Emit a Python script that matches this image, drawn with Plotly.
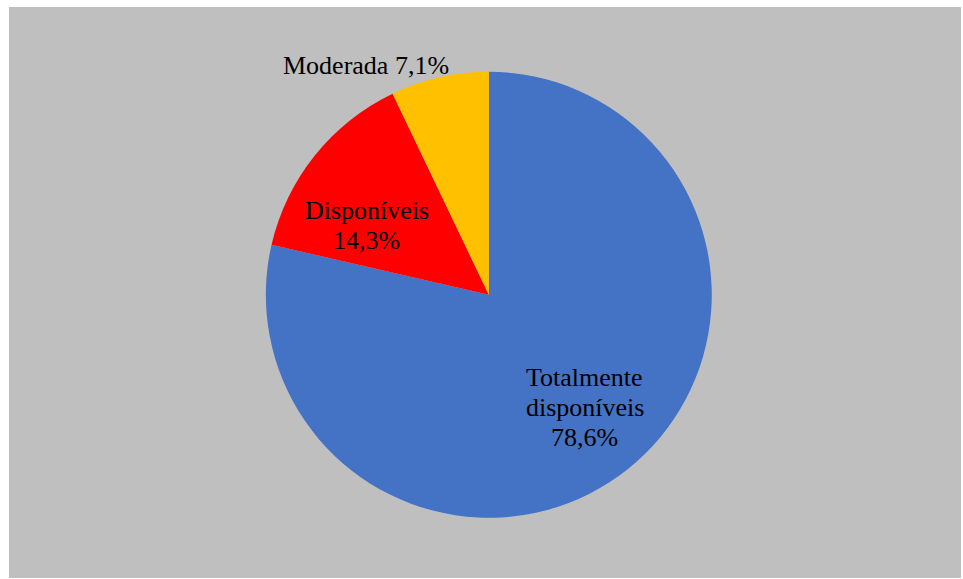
import plotly.graph_objects as go

labels = ["Totalmente disponíveis", "Disponíveis", "Moderada"]
values = [78.6, 14.3, 7.1]
label_lines = [["Totalmente", "disponíveis"], ["Disponíveis"], ["Moderada"]]
pct_on_new_line = [True, True, False]
colors = ["#4472C4", "#FF0000", "#FFC000"]

# label centres (paper coords)
label_x = [0.605, 0.376, 0.3755]
label_y = [0.298, 0.618, 0.898]

fig = go.Figure()
fig.add_trace(go.Pie(
    labels=labels,
    values=values,
    sort=False,
    direction="clockwise",
    rotation=0,
    marker=dict(colors=colors, line=dict(width=0)),
    textinfo="none",
    hoverinfo="label+percent",
    showlegend=False,
    domain=dict(x=[0.2698, 0.7382], y=[0.1055, 0.8865]),
))

for lines, newline, v, x, y in zip(label_lines, pct_on_new_line, values, label_x, label_y):
    pct = f"{v:.1f}".replace(".", ",") + "%"
    if newline:
        rows = lines + [pct]
    else:
        rows = lines[:-1] + [lines[-1] + " " + pct]
    n = len(rows)
    for i, row in enumerate(rows):
        fig.add_annotation(
            x=x, y=y, xref="paper", yref="paper",
            xanchor="center", yanchor="middle",
            yshift=(n - 1) / 2 * 30 - i * 30,
            text=row, showarrow=False,
            font=dict(family="Liberation Serif", size=26, color="black"),
        )

fig.add_shape(type="rect", xref="paper", yref="paper", x0=0, x1=1, y0=0, y1=1,
              fillcolor="#BFBFBF", line=dict(width=0), layer="below")

fig.update_layout(
    width=963, height=579,
    margin=dict(l=9, r=2, t=7, b=1),
    paper_bgcolor="white",
    plot_bgcolor="#BFBFBF",
)

fig.write_html("out.html", config={"displayModeBar": False},
               post_script="document.body.style.margin='0';")
